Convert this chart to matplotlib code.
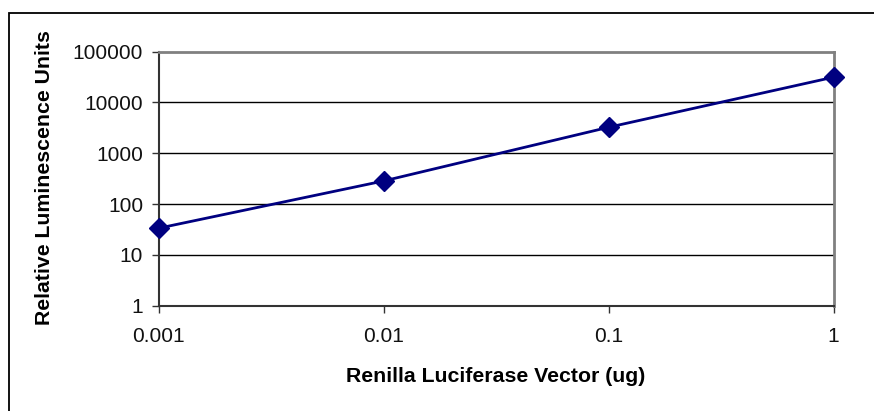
import matplotlib
matplotlib.use("Agg")
import matplotlib.pyplot as plt
from matplotlib.patches import Rectangle

categories = ["0.001", "0.01", "0.1", "1"]
values = [33.5, 285, 3250, 31500]
y_ticks = [1, 10, 100, 1000, 10000, 100000]
y_tick_labels = ["1", "10", "100", "1000", "10000", "100000"]

plt.rcParams['font.family'] = ['Liberation Sans', 'DejaVu Sans']

W, H = 874, 411
fig = plt.figure(figsize=(W / 100, H / 100), dpi=100)

# outer chart border (right and bottom edges fall outside the image)
fig.patches.append(Rectangle((8.5 / W, -0.2), 1.2, 1.2 - 12.5 / H, transform=fig.transFigure,
                             fill=False, edgecolor='black', linewidth=1.3))

left, right, top, bottom = 158.5, 833.5, 51.7, 305.7
ax = fig.add_axes([left / W, 1 - bottom / H, (right - left) / W, (bottom - top) / H])

x = list(range(len(categories)))
ax.plot(x, values, color='#000080', linewidth=2, marker='D', markersize=10,
        markerfacecolor='#000080', markeredgecolor='#000080', zorder=5, clip_on=False)

ax.set_yscale('log')
ax.set_ylim(1, 100000)
ax.set_xlim(0, len(categories) - 1)
ax.set_yticks(y_ticks)
ax.set_yticklabels(y_tick_labels)
ax.yaxis.set_minor_locator(matplotlib.ticker.NullLocator())
ax.set_xticks(x)
ax.set_xticklabels(categories)

for yv in y_ticks[1:-1]:
    ax.axhline(yv, color='black', linewidth=1, zorder=1)

ax.spines['top'].set_color('#808080')
ax.spines['right'].set_color('#808080')
ax.spines['top'].set_linewidth(2)
ax.spines['right'].set_linewidth(2)
ax.spines['left'].set_color('#333333')
ax.spines['bottom'].set_color('#333333')
ax.spines['left'].set_linewidth(1.5)
ax.spines['bottom'].set_linewidth(1.5)

ax.tick_params(axis='both', direction='out', length=5, width=1, color='#333333',
               labelsize=15, labelcolor='#111111')
ax.tick_params(axis='y', pad=6)
ax.tick_params(axis='x', pad=10)

fig.text(496 / W, 1 - 376 / H, "Renilla Luciferase Vector (ug)", ha='center', va='center',
         fontsize=15.3, fontweight='bold')
fig.text(45 / W, 1 - 178 / H, "Relative Luminescence Units", ha='center', va='center',
         rotation=90, fontsize=15.3, fontweight='bold')

fig.savefig("out.png", dpi=100)
